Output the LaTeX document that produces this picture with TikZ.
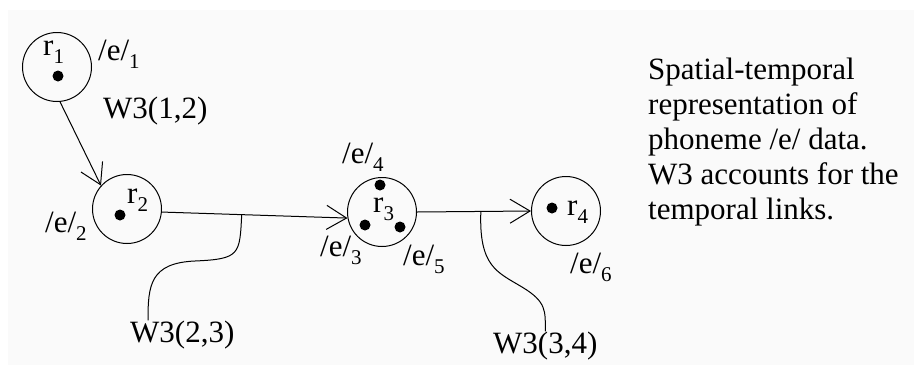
\documentclass[tikz,border=0pt]{standalone}
\usepackage{fontspec}
\setmainfont{LiberationSerif}[Extension=.ttf, UprightFont=*-Regular, BoldFont=*-Bold, ItalicFont=*-Italic, BoldItalicFont=*-BoldItalic]
\usetikzlibrary{arrows.meta, positioning}
\newcommand{\subidx}[1]{\raisebox{-0.28em}{\fontsize{21}{21}\selectfont #1}}

\begin{document}
\begin{tikzpicture}[
  x=1pt, y=-1pt,
  font=\rmfamily\fontsize{31}{35}\selectfont,
  region/.style={circle, draw, line width=1pt, minimum size=69pt, inner sep=0pt},
  dot/.style={circle, fill, inner sep=0pt, minimum size=11pt},
  tag/.style={anchor=base west, inner sep=0pt},
  link/.style={line width=1pt, -{Straight Barb[length=20pt, width=24pt]}},
  wire/.style={line width=1pt}
]
\useasboundingbox (0,0) rectangle (914,365);
\fill[black!2] (8,10) rectangle (914,365);

\node [region] (r1) at (57,67) {};
\node [region] (r2) at (127,209) {};
\node [region] (r3) at (382,212) {};
\node [region] (r4) at (566,211) {};

\node [dot] (d1) at (58,76) {};
\node [dot] (d2) at (120,215) {};
\node [dot] (d3) at (380,185) {};
\node [dot] (d4) at (365,225) {};
\node [dot] (d5) at (400,227) {};
\node [dot] (d6) at (552,208) {};

\node [tag] (n1) at (43,55) {r\subidx{1}};
\node [tag] (n2) at (127,203) {r\subidx{2}};
\node [tag] (n3) at (373,212) {r\subidx{3}};
\node [tag] (n4) at (567,215) {r\subidx{4}};

\node [tag] (e1) at (98,60) {/e/\subidx{1}};
\node [tag] (e2) at (45,232) {/e/\subidx{2}};
\node [tag] (e3) at (320,256) {/e/\subidx{3}};
\node [tag] (e4) at (342,163) {/e/\subidx{4}};
\node [tag] (e5) at (403,265) {/e/\subidx{5}};
\node [tag] (e6) at (570,273) {/e/\subidx{6}};

\node [tag] (w12) at (103,118) {W3(1,2)};
\node [tag] (w23) at (130,342) {W3(2,3)};
\node [tag] (w34) at (493,353) {W3(3,4)};

\node [anchor=north west, inner sep=0pt, align=left] (note) at (648,58)
  {Spatial-temporal\\representation of\\phoneme /e/ data.\\W3 accounts for the\\temporal links.};

\draw [link] (r1.275) -- (r2.138);
\draw [link] (r2.-5) -- coordinate[pos=0.43] (k23) (r3.190);
\draw [link] (r3.east) -- coordinate[pos=0.56] (k34) (r4.west);

\draw [wire] (k23) .. controls +(-2,40) and +(45,-2) .. (195,261)
  .. controls +(-45,2) and +(0,-35) .. ([xshift=18pt]w23.north west);
\draw [wire] (k34) .. controls +(-2,55) and +(-25,-15) .. (522,287)
  .. controls +(25,15) and +(0,-20) .. (w34.north);
\end{tikzpicture}
\end{document}
